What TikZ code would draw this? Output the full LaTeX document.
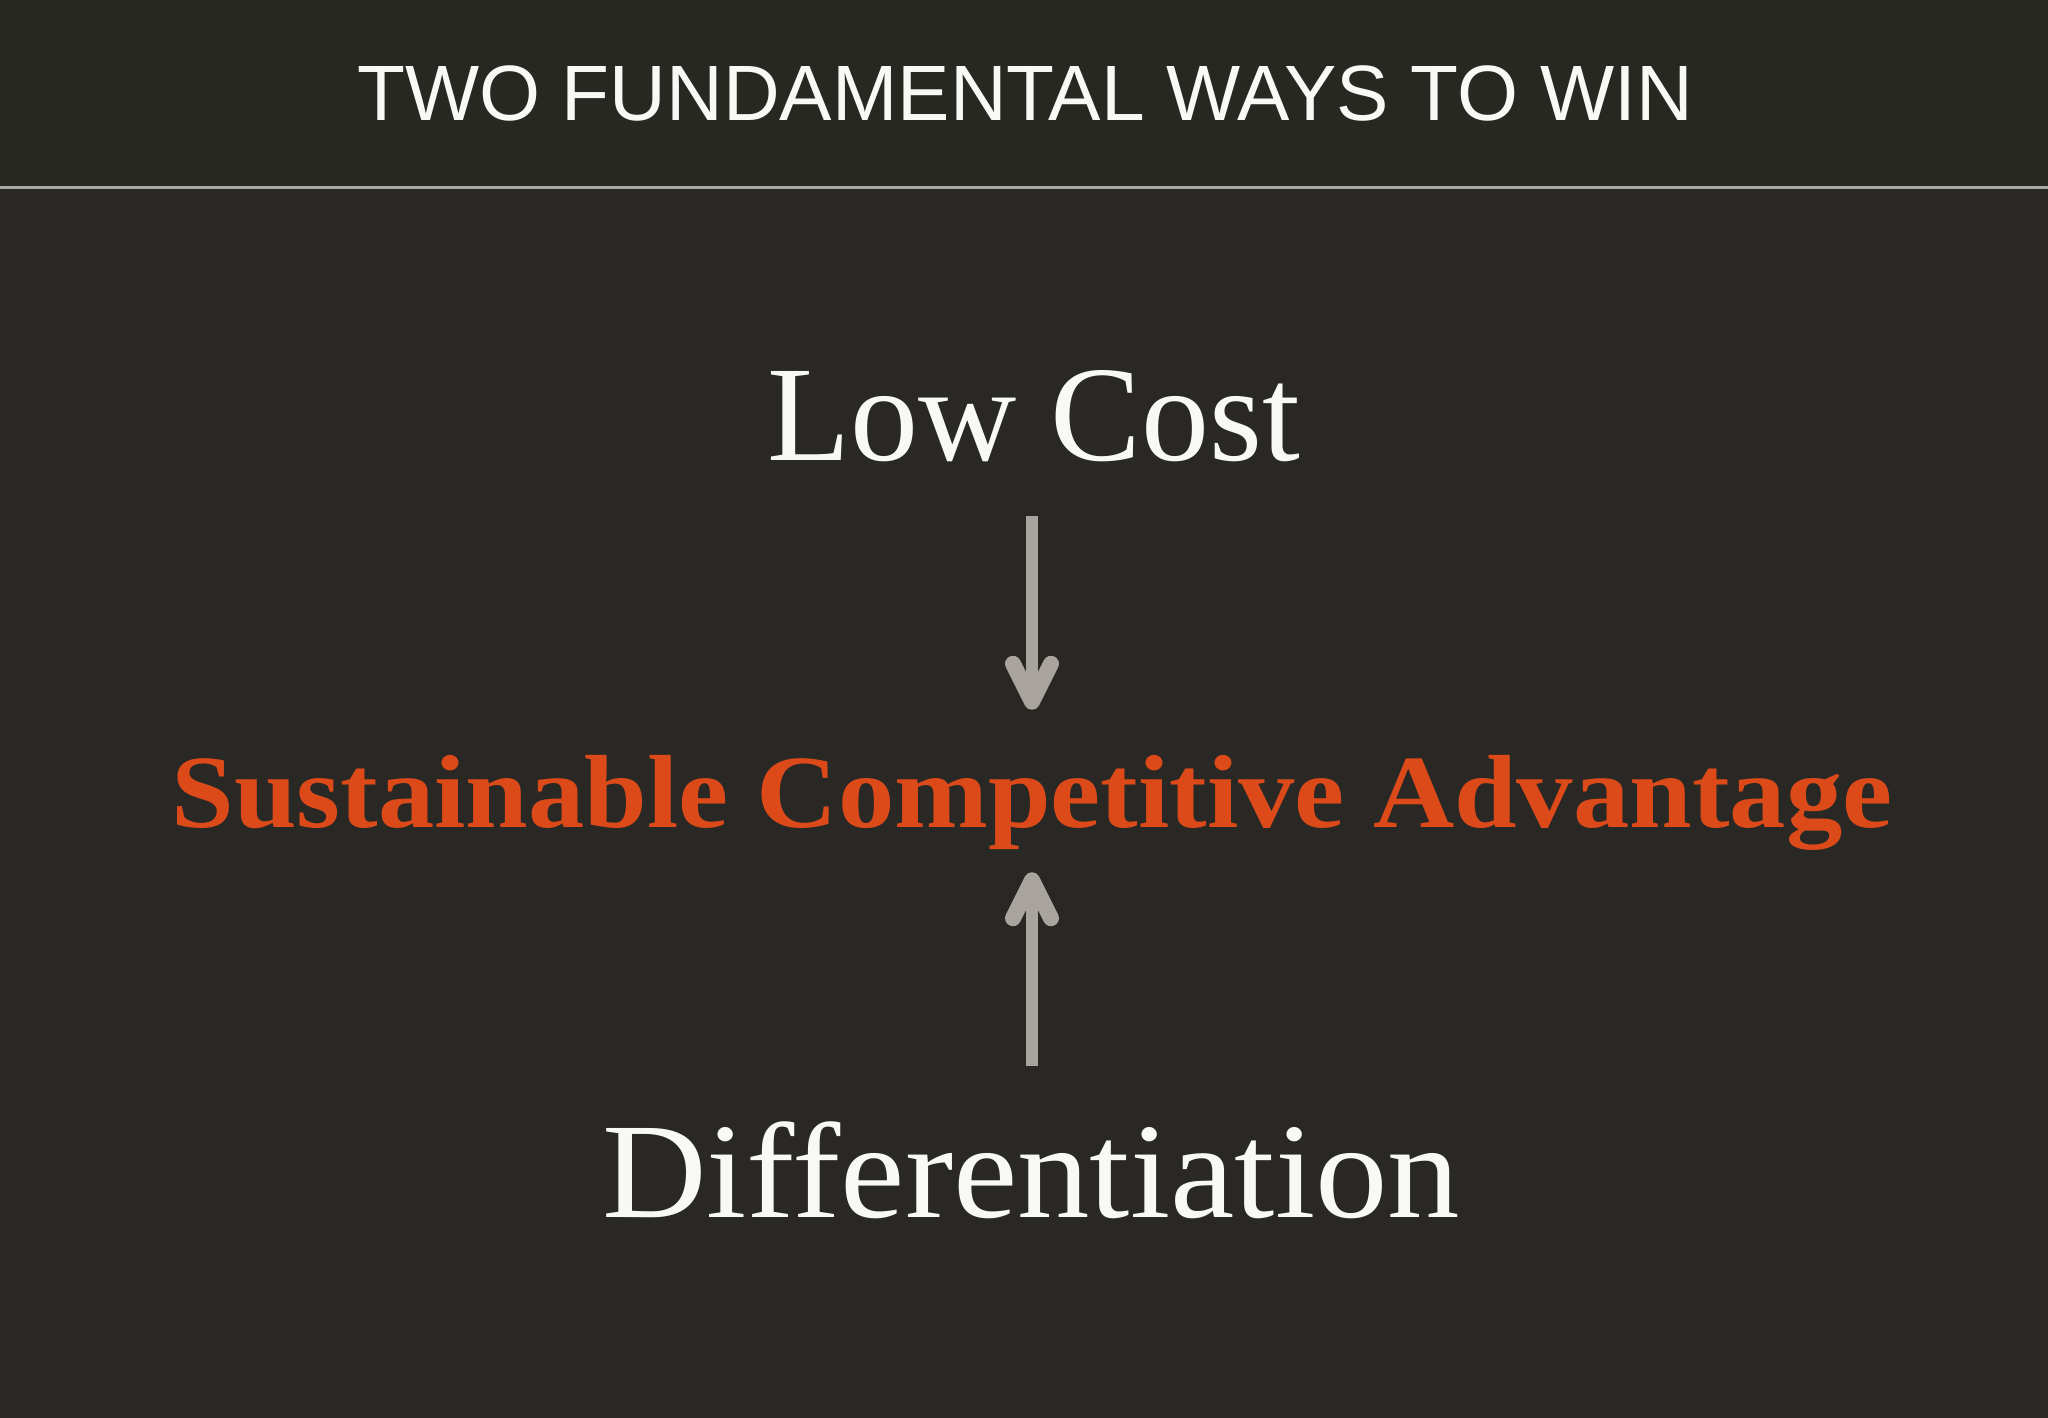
\documentclass[tikz,border=0pt]{standalone}
\usepackage{fontspec}
\setmainfont{Liberation Serif}
\newfontfamily\headfont{Liberation Sans}
\usetikzlibrary{arrows.meta,positioning}
\definecolor{slatebg}{HTML}{2A2825}
\definecolor{headbg}{HTML}{282823}
\definecolor{rulegray}{HTML}{A8A6A0}
\definecolor{arrowgray}{HTML}{A9A49E}
\definecolor{advred}{HTML}{DD4A1A}
\definecolor{chalk}{HTML}{F8F8F5}

\begin{document}
\begin{tikzpicture}[x=1pt,y=-1pt,
        word/.style={inner sep=0pt,anchor=base,text=chalk},
        head/.style={word,font=\headfont\fontsize{78.5}{78.5}\selectfont},
        pole/.style={word,font=\fontsize{136}{136}\selectfont,text depth=0pt,text height=91pt},
        goal/.style={word,text=advred,font=\bfseries\fontsize{104}{104}\selectfont,
          text height=70pt,text depth=20pt},
        push/.style={draw=arrowgray,line width=12pt,
          -{Straight Barb[length=38pt,width=38pt,line width=16pt,round]}}]
      \useasboundingbox (0,0) rectangle (2048,1418);
      \fill[slatebg] (0,0) rectangle (2048,1418);
      \fill[headbg] (0,0) rectangle (2048,187);
      \draw[rulegray,line width=3pt] (0,187) -- (2048,187);

      \node[head] (title) at (1025,121) {TWO FUNDAMENTAL WAYS TO WIN};
      \node[pole] (low) at (1034,460) {Low Cost};
      \node[goal] (sca) at (1032,827) {\scalebox{1.083}[1]{Sustainable Competitive Advantage}};
      \node[pole] (diff) at (1031,1217) {\scalebox{1.065}[1]{Differentiation}};

      % arrows meet in the middle
      \draw[push,shorten <=56pt,shorten >=47pt] (low.south -| sca) -- (sca.north);
      \draw[push,shorten <=60pt,shorten >=25pt] (diff.north -| sca) -- (sca.south);
    \end{tikzpicture}
\end{document}
